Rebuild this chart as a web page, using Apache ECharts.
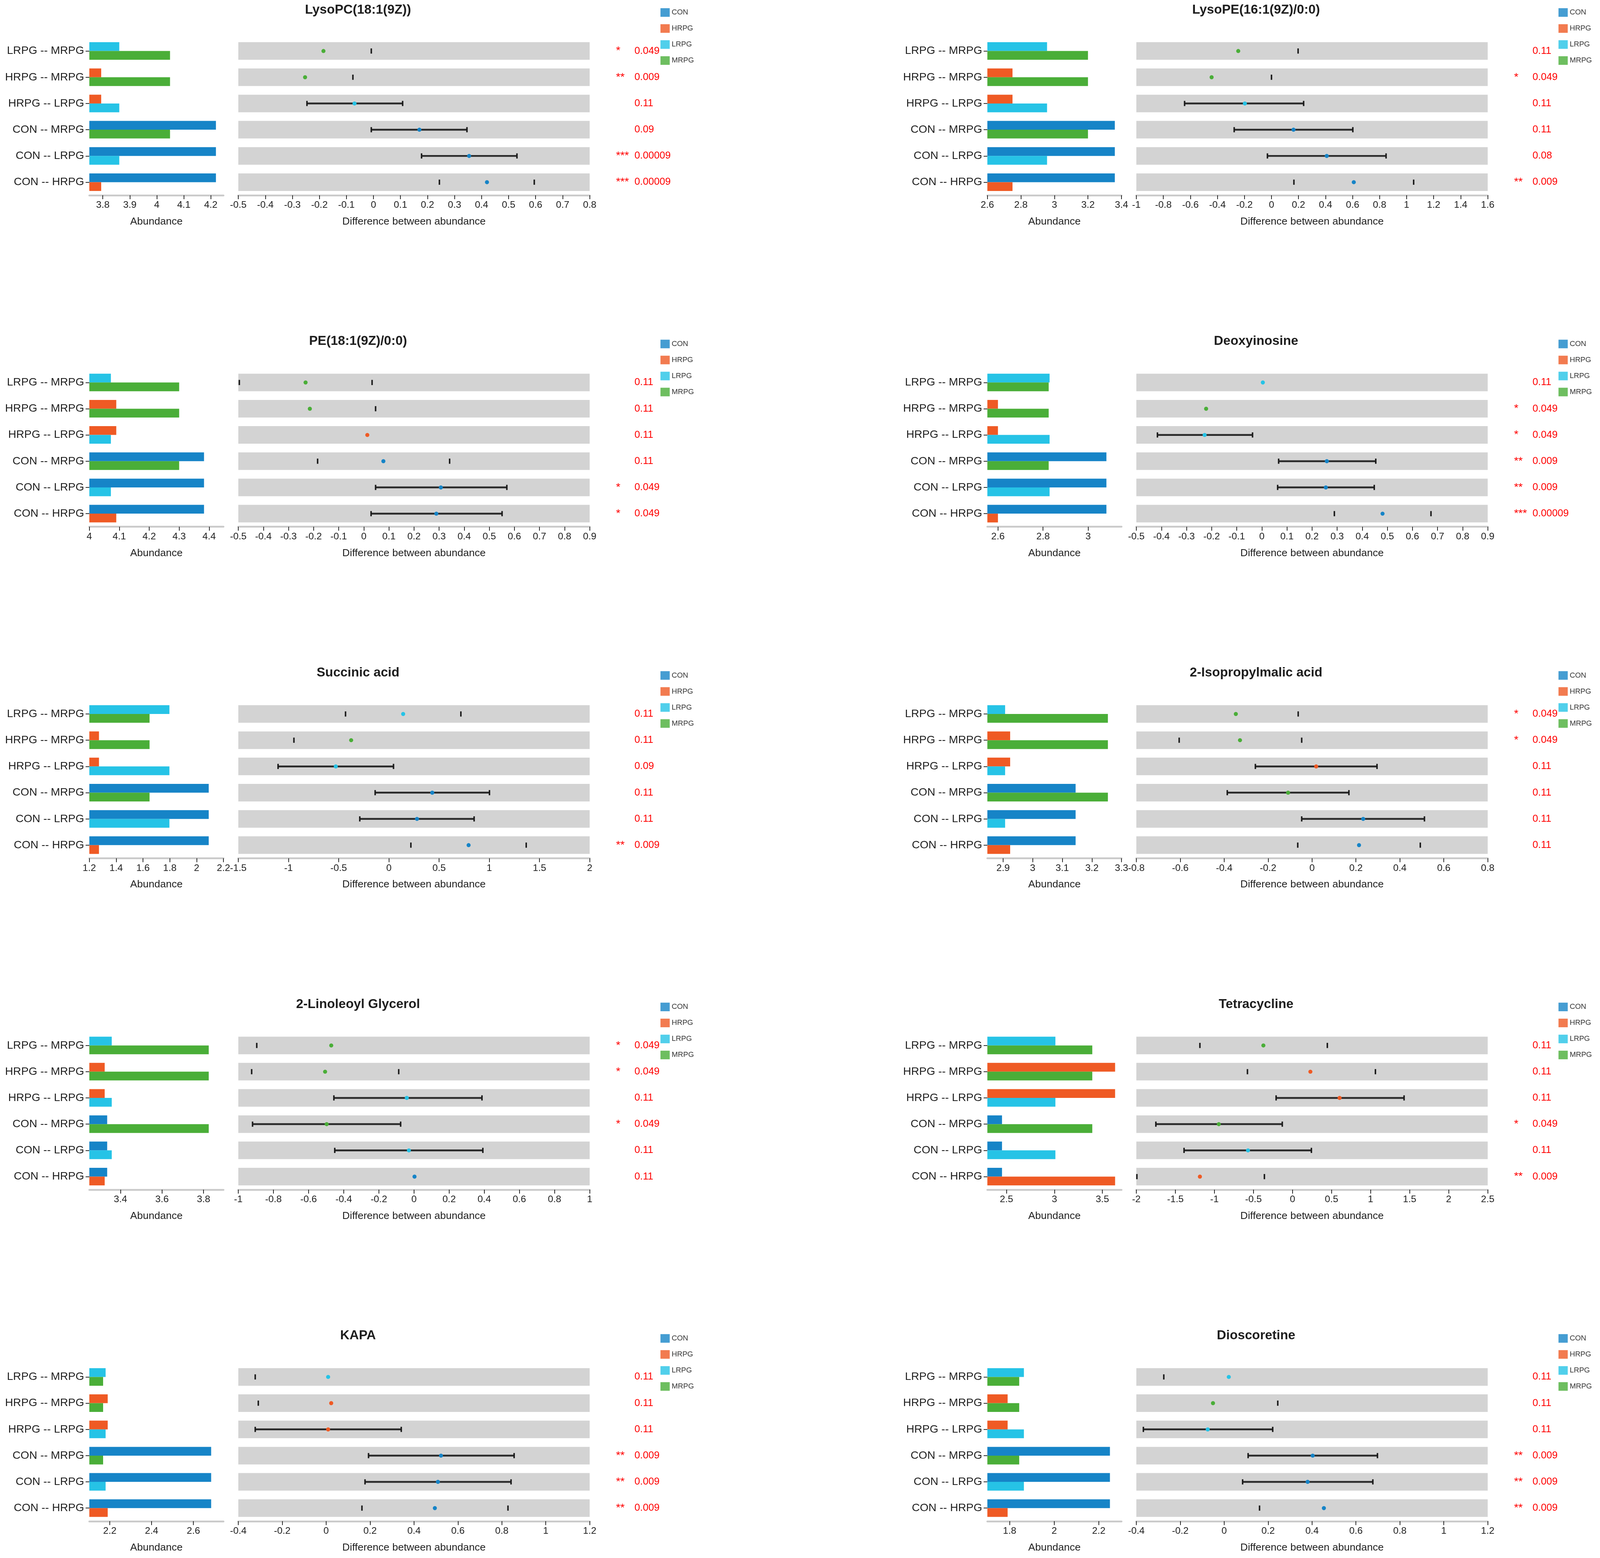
<!DOCTYPE html>
<html>
<head>
<meta charset="utf-8">
<title>Abundance and pairwise differences</title>
<script src="https://cdn.jsdelivr.net/npm/echarts@6/dist/echarts.min.js"></script>
<style>
  html, body { margin: 0; padding: 0; background: #fff; overflow: hidden; }
  #chart { width: 100vw; height: 100vh; }
</style>
</head>
<body>
<div id="chart"></div>
<script>
var compounds = ['LysoPC(18:1(9Z))', 'LysoPE(16:1(9Z)/0:0)', 'PE(18:1(9Z)/0:0)', 'Deoxyinosine',
  'Succinic acid', '2-Isopropylmalic acid', '2-Linoleoyl Glycerol', 'Tetracycline', 'KAPA', 'Dioscoretine'];
var groups = ['CON', 'HRPG', 'LRPG', 'MRPG'];
var groupColors = ['#1684c7', '#ef5a24', '#26c3e6', '#4aae38'];
// comparisons, top row first (indexes into groups)
var pairs = [[2, 3], [1, 3], [1, 2], [0, 3], [0, 2], [0, 1]];

// mean abundance per compound: CON, HRPG, LRPG, MRPG
var abundance = [
  [4.219, 3.794, 3.861, 4.049],
  [3.36, 2.75, 2.956, 3.2],
  [4.383, 4.09, 4.072, 4.30],
  [3.081, 2.6, 2.829, 2.825],
  [2.09, 1.272, 1.797, 1.649],
  [3.145, 2.924, 2.907, 3.254],
  [3.336, 3.324, 3.358, 3.825],
  [2.453, 3.633, 3.01, 3.395],
  [2.685, 2.19, 2.18, 2.168],
  [2.25, 1.791, 1.864, 1.843]
];
var abundanceMin = [3.75, 2.6, 4.0, 2.553, 1.2, 2.847, 3.25, 2.3, 2.102, 1.7];
var abundanceMax = [4.247, 3.4, 4.448, 3.148, 2.2, 3.3, 3.896, 3.7, 2.744, 2.302];
var abundanceTicks = [
  [3.8, 3.9, 4, 4.1, 4.2],
  [2.6, 2.8, 3, 3.2, 3.4],
  [4, 4.1, 4.2, 4.3, 4.4],
  [2.6, 2.8, 3],
  [1.2, 1.4, 1.6, 1.8, 2, 2.2],
  [2.9, 3, 3.1, 3.2, 3.3],
  [3.4, 3.6, 3.8],
  [2.5, 3, 3.5],
  [2.2, 2.4, 2.6],
  [1.8, 2, 2.2]
];

// difference between abundance, rows in the same order as pairs
var meanDiff = [
  [-0.185, -0.253, -0.07, 0.17, 0.354, 0.42],
  [-0.246, -0.443, -0.197, 0.163, 0.409, 0.609],
  [-0.232, -0.215, 0.014, 0.078, 0.307, 0.289],
  [0.004, -0.222, -0.228, 0.259, 0.255, 0.481],
  [0.142, -0.376, -0.529, 0.432, 0.28, 0.794],
  [-0.347, -0.328, 0.019, -0.109, 0.233, 0.214],
  [-0.471, -0.506, -0.041, -0.497, -0.029, 0.003],
  [-0.373, 0.229, 0.603, -0.944, -0.57, -1.186],
  [0.009, 0.023, 0.009, 0.523, 0.509, 0.495],
  [0.021, -0.051, -0.075, 0.403, 0.38, 0.454]
];
var ciLow = [
  [null, null, -0.246, -0.008, 0.178, 0.244],
  [null, null, -0.643, -0.276, -0.03, 0.166],
  [-0.496, null, null, -0.184, 0.047, 0.029],
  [null, null, -0.416, 0.067, 0.063, 0.289],
  [-0.432, -0.946, -1.104, -0.137, -0.29, 0.219],
  [null, -0.605, -0.258, -0.386, -0.047, -0.065],
  [-0.895, -0.924, -0.456, -0.919, -0.451, null],
  [-1.186, -0.577, -0.21, -1.75, -1.389, -1.993],
  [-0.323, -0.309, -0.323, 0.193, 0.177, 0.163],
  [-0.275, null, -0.368, 0.109, 0.084, 0.161]
];
var ciHigh = [
  [-0.008, -0.076, 0.108, 0.346, 0.531, 0.595],
  [0.197, 0.0, 0.238, 0.602, 0.848, 1.052],
  [0.033, 0.047, null, 0.342, 0.57, 0.551],
  [null, null, -0.037, 0.454, 0.448, 0.674],
  [0.717, null, 0.046, 1.002, 0.849, 1.368],
  [-0.063, -0.047, 0.296, 0.168, 0.512, 0.493],
  [null, -0.087, 0.387, -0.076, 0.392, null],
  [0.446, 1.062, 1.429, -0.131, 0.242, -0.36],
  [null, null, 0.342, 0.856, 0.842, 0.828],
  [null, 0.244, 0.221, 0.698, 0.677, null]
];
// 1 where the interval bar itself is drawn, 0 where only its ends show
var ciLineDrawn = [
  [0, 0, 1, 1, 1, 0], [0, 0, 1, 1, 1, 0], [0, 0, 0, 0, 1, 1], [0, 0, 1, 1, 1, 0], [0, 0, 1, 1, 1, 0],
  [0, 0, 1, 1, 1, 0], [0, 0, 1, 1, 1, 0], [0, 0, 1, 1, 1, 0], [0, 0, 1, 1, 1, 0], [0, 0, 1, 1, 1, 0]
];
var pValues = [
  [0.049, 0.009, 0.11, 0.09, 0.00009, 0.00009],
  [0.11, 0.049, 0.11, 0.11, 0.08, 0.009],
  [0.11, 0.11, 0.11, 0.11, 0.049, 0.049],
  [0.11, 0.049, 0.049, 0.009, 0.009, 0.00009],
  [0.11, 0.11, 0.09, 0.11, 0.11, 0.009],
  [0.049, 0.049, 0.11, 0.11, 0.11, 0.11],
  [0.049, 0.049, 0.11, 0.049, 0.11, 0.11],
  [0.11, 0.11, 0.11, 0.049, 0.11, 0.009],
  [0.11, 0.11, 0.11, 0.009, 0.009, 0.009],
  [0.11, 0.11, 0.11, 0.009, 0.009, 0.009]
];
var diffMin = [-0.5, -1, -0.5, -0.5, -1.5, -0.8, -1, -2, -0.4, -0.4];
var diffMax = [0.8, 1.6, 0.9, 0.9, 2, 0.8, 1, 2.5, 1.2, 1.2];
var diffStep = [0.1, 0.2, 0.1, 0.1, 0.5, 0.2, 0.2, 0.5, 0.2, 0.2];

var FONT = '"Liberation Sans", Arial, sans-serif';
var TXT = '#1e1e1e';
var el = document.getElementById('chart');
// layout was measured on a 4317 x 3989 canvas; scale it to whatever the page really is
var sx = el.clientWidth / 4317, sy = el.clientHeight / 3989, sf = Math.min(sx, sy);
function X(v) { return v * sx; }
function Y(v) { return v * sy; }
function F(v) { return v * sf; }
var chart = echarts.init(el, null, { renderer: 'canvas' });

function starsFor(p) {
  return p < 0.001 ? '***' : p < 0.01 ? '**' : p < 0.05 ? '*' : '';
}

function bottomAxis(gi, name) {
  return {
    type: 'value', gridIndex: gi,
    axisLine: { show: true, onZero: false, lineStyle: { color: '#c9c9c9', width: F(5) } },
    axisTick: { show: true, length: Y(10), lineStyle: { color: TXT, width: F(2) } },
    axisLabel: { margin: Y(13), fontSize: F(26), color: TXT, fontFamily: FONT },
    splitLine: { show: false },
    name: name, nameLocation: 'middle', nameGap: Y(54),
    nameTextStyle: { fontSize: F(28), color: TXT, fontFamily: FONT }
  };
}

function makeCI(k) {
  return function (params, api) {
    var i = params.dataIndex, cs = params.coordSys;
    var c = api.coord([meanDiff[k][i], i]);
    var bandH = api.size([0, 1])[1] * 0.67;
    var pr = pairs[i];
    var up = abundance[k][pr[0]] >= abundance[k][pr[1]] ? pr[0] : pr[1];
    var lo = ciLow[k][i], hi = ciHigh[k][i];
    var kids = [{ type: 'rect', shape: { x: cs.x, y: c[1] - bandH / 2, width: cs.width, height: bandH }, style: { fill: '#d3d3d3' } }];
    if (ciLineDrawn[k][i]) {
      kids.push({ type: 'line', shape: { x1: api.coord([lo, i])[0], y1: c[1], x2: api.coord([hi, i])[0], y2: c[1] },
        style: { stroke: '#2b2b2b', lineWidth: F(5) } });
    }
    [lo, hi].forEach(function (v) {
      if (v === null) return;
      var x = api.coord([v, i])[0];
      kids.push({ type: 'rect', shape: { x: x - F(2), y: c[1] - F(7), width: F(4), height: F(14) }, style: { fill: '#1a1a1a' } });
    });
    kids.push({ type: 'circle', shape: { cx: c[0], cy: c[1], r: F(5.5) }, style: { fill: groupColors[up] } });
    return { type: 'group', children: kids };
  };
}

var grids = [], xAxes = [], yAxes = [], series = [], titles = [], legends = [];
var labels = pairs.map(function (pr) { return groups[pr[0]] + ' -- ' + groups[pr[1]]; });

compounds.forEach(function (name, k) {
  var ox = (k % 2) * 2423, oy = Math.floor(k / 2) * 848.7;
  var gb = 2 * k, gc = 2 * k + 1;

  titles.push({ text: name, left: X(ox + 966), top: Y(oy + 9), textAlign: 'center', padding: 0,
    textStyle: { fontSize: F(35), fontWeight: 'bold', color: TXT, fontFamily: FONT } });
  legends.push({ data: groups, orient: 'vertical', left: X(ox + 1782), top: Y(oy + 21), padding: 0,
    itemWidth: X(25), itemHeight: Y(22), itemGap: Y(19), icon: 'rect', selectedMode: false,
    textStyle: { fontSize: F(20), color: '#333', fontFamily: FONT } });

  grids.push({ left: X(ox + 241), top: Y(oy + 97), width: X(362), height: Y(403) });
  grids.push({ left: X(ox + 643), top: Y(oy + 97), width: X(948), height: Y(403) });

  var xb = bottomAxis(gb, 'Abundance');
  xb.min = abundanceMin[k];
  xb.max = abundanceMax[k];
  xb.axisTick.customValues = abundanceTicks[k];
  xb.axisLabel.customValues = abundanceTicks[k];
  var xc = bottomAxis(gc, 'Difference between abundance');
  xc.min = diffMin[k];
  xc.max = diffMax[k];
  xc.interval = diffStep[k];
  xAxes.push(xb, xc);

  yAxes.push({
    type: 'category', gridIndex: gb, inverse: true, data: labels,
    axisLine: { show: false },
    axisTick: { show: true, alignWithLabel: true, length: X(10), lineStyle: { color: TXT, width: F(2) } },
    axisLabel: { interval: 0, margin: X(14), fontSize: F(30), color: TXT, fontFamily: FONT }
  });
  yAxes.push({
    type: 'category', gridIndex: gc, inverse: true, data: labels, position: 'right',
    axisLine: { show: false }, axisTick: { show: false },
    axisLabel: {
      interval: 0, margin: X(71),
      formatter: function (v, i) {
        var s = starsFor(pValues[k][i]);
        return '{s|' + (s || ' ') + '}{p|' + pValues[k][i] + '}';
      },
      rich: {
        s: { width: X(50), fontSize: F(30), color: '#ff0000', fontFamily: FONT },
        p: { fontSize: F(27), color: '#ff0000', fontFamily: FONT }
      }
    }
  });

  [0, 1].forEach(function (side) {
    series.push({
      type: 'bar', name: side ? 'second' : 'first', xAxisIndex: gb, yAxisIndex: gb,
      barWidth: '33.5%', barGap: '0%', silent: true,
      data: pairs.map(function (pr) {
        var g = pr[side];
        return { value: abundance[k][g], itemStyle: { color: groupColors[g] } };
      })
    });
  });
  series.push({
    type: 'custom', xAxisIndex: gc, yAxisIndex: gc, silent: true, clip: false,
    encode: { x: 0, y: 1 },
    data: meanDiff[k].map(function (d, i) { return [d, i]; }),
    renderItem: makeCI(k)
  });
});

// legend entries
groups.forEach(function (g, i) {
  series.push({ type: 'scatter', name: g, xAxisIndex: 1, yAxisIndex: 1, data: [], itemStyle: { color: groupColors[i] } });
});

chart.setOption({
  backgroundColor: '#fff',
  animation: false,
  title: titles,
  legend: legends,
  grid: grids,
  xAxis: xAxes,
  yAxis: yAxes,
  series: series
});
</script>
</body>
</html>
